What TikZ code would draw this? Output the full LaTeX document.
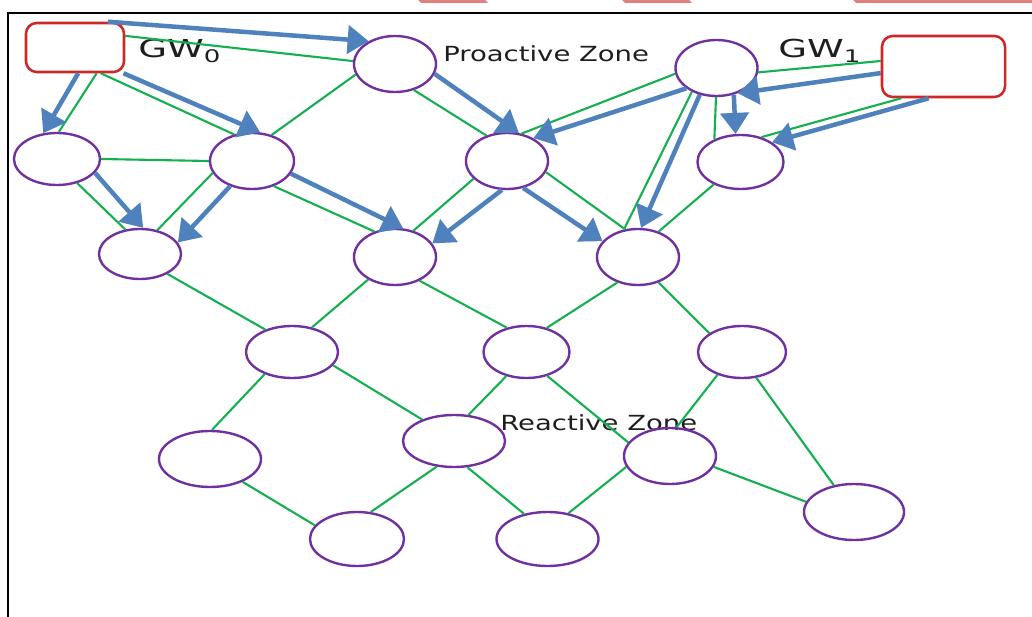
\documentclass[tikz,border=0pt]{standalone}
\usepackage{fontspec}
\usepackage{tikz}
\usetikzlibrary{shapes.geometric,arrows.meta}

\newfontfamily\zonefont[FakeStretch=1.32]{DejaVu Sans}
\newfontfamily\gwfont[FakeStretch=1.5]{DejaVu Sans}

\definecolor{linkgreen}{RGB}{20,176,80}
\definecolor{routeblue}{RGB}{79,129,189}
\definecolor{peerpurple}{RGB}{112,48,160}
\definecolor{gatered}{RGB}{205,40,40}
\definecolor{stripered}{RGB}{224,128,128}
\definecolor{labelgray}{RGB}{30,30,30}

\tikzset{
  peer/.style={ellipse, draw=peerpurple, line width=1.7pt, inner sep=0pt,
    minimum width=2.1cm, minimum height=1.4cm},
  oval/.style 2 args={minimum width=#1cm, minimum height=#2cm},
  gateway/.style={draw=gatered, line width=1.8pt, rounded corners=0.27cm, inner sep=0pt},
  link/.style={draw=linkgreen, line width=1.5pt},
  route/.style={draw=routeblue, line width=3.2pt, -{Triangle[length=15pt,width=20pt]}},
  zonelabel/.style={anchor=base west, inner sep=0pt, text=labelgray,
    font=\zonefont\fontsize{14.8}{17}\selectfont},
  gwlabel/.style={anchor=base west, inner sep=0pt, text=labelgray,
    font=\gwfont\fontsize{17.6}{20}\selectfont}
}

\begin{document}
\begin{tikzpicture}[x=0.025cm, y=-0.025cm]

    \useasboundingbox (0,0) rectangle (1032,617);

    % stripes cut off at the top
    \fill[stripered] (418,0) -- (485,0) -- (488,3) -- (421,3) -- cycle;
    \fill[stripered] (622,0) -- (689,0) -- (692,3) -- (625,3) -- cycle;
    \fill[stripered] (853,0) -- (1032,0) -- (1032,3) -- (856,3) -- cycle;

    % frame
    \draw[line width=1.4pt] (8,617) -- (8,13) -- (1032,13);

    % gateways
    \node[gateway, minimum width=2.45cm, minimum height=1.225cm] (gw0) at (75,47.5) {};
    \node[gateway, minimum width=3.075cm, minimum height=1.525cm] (gw1) at (943.5,66.5) {};

    \node[gwlabel] (gw0text) at (138,58) {GW\textsubscript{0}};
    \node[gwlabel] (gw1text) at (778,58) {GW\textsubscript{1}};
    \node[zonelabel] (proactive) at (443,62) {Proactive Zone};
    \node[zonelabel] (reactive) at (500,430) {Reactive Zone};

    % peers
    \node[peer, oval={2.05}{1.4}] (p1) at (395,64) {};
    \node[peer, oval={2.05}{1.4}] (p2) at (716.5,68) {};

    \node[peer, oval={2.15}{1.3}] (a) at (57,159) {};
    \node[peer] (b) at (252,161) {};
    \node[peer, oval={2.05}{1.4}] (c) at (507,161) {};
    \node[peer, oval={2.15}{1.35}] (d) at (740.5,162) {};

    \node[peer, oval={2.05}{1.25}] (e) at (140,254) {};
    \node[peer, oval={2.05}{1.4}] (f) at (395,257) {};
    \node[peer, oval={2.05}{1.4}] (g) at (638,257) {};

    \node[peer, oval={2.3}{1.3}] (h) at (292,352) {};
    \node[peer, oval={2.15}{1.3}] (i) at (526.5,352) {};
    \node[peer, oval={2.2}{1.3}] (j) at (742,352) {};

    \node[peer, oval={2.55}{1.4}] (k) at (210,459) {};
    \node[peer, oval={2.55}{1.3}] (l) at (454,441) {};
    \node[peer, oval={2.3}{1.4}] (m) at (670,456) {};
    \node[peer, oval={2.5}{1.4}] (n) at (854,512) {};

    \node[peer, oval={2.35}{1.35}] (o) at (357,539) {};
    \node[peer, oval={2.55}{1.35}] (q) at (547.5,539) {};

    % green links
    \draw[link] (gw0.13) -- (p1.176);
    \draw[link] (gw0.-50) -- (a.86);
    \draw[link] (gw0.-45) -- (b.124);
    \draw[link] (p1.195) -- (b.53);
    \draw[link] (p1.-54) -- (c.129);
    \draw[link] (a.0) -- (b.180);
    \draw[link] (a.-50) -- (e.121);
    \draw[link] (b.197) -- (e.54);
    \draw[link] (b.-49) -- (f.129);
    \draw[link] (c.208) -- (f.55);
    \draw[link] (p2.-6) -- (gw1.175);
    \draw[link] (gw1.217) -- (d.50);
    \draw[link] (p2.-91) -- (d.139);
    \draw[link] (p2.188) -- (c.62);
    \draw[link] (p2.224) -- (g.117);
    \draw[link] (c.-16) -- (g.115);
    \draw[link] (d.220) -- (g.51);
    \draw[link] (e.-36) -- (h.140);
    \draw[link] (f.220) -- (h.51);
    \draw[link] (f.-44) -- (i.129);
    \draw[link] (g.231) -- (i.50);
    \draw[link] (g.-51) -- (j.150);
    \draw[link] (h.219) -- (k.86);
    \draw[link] (h.-18) -- (l.146);
    \draw[link] (i.230) -- (l.61);
    \draw[link] (i.-49) -- (m.162);
    \draw[link] (j.223) -- (m.77);
    \draw[link] (j.-61) -- (n.127);
    \draw[link] (k.-35) -- (o.162);
    \draw[link] (l.236) -- (o.63);
    \draw[link] (l.-63) -- (q.133);
    \draw[link] (m.-14) -- (n.168);
    \draw[link] (m.194) -- (q.51);

    % blue routes
    \draw[route] (gw0.38) -- (p1.139);
    \draw[route] (gw0.-83) -- (a.118);
    \draw[route] (gw0.-28) -- (b.74);
    \draw[route] (p1.-14) -- (c.67);
    \draw[route] (a.-20) -- (e.83);
    \draw[route] (b.229) -- (e.17);
    \draw[route] (b.-18) -- (f.74);
    \draw[route] (c.260) -- (f.20);
    \draw[route] (gw1.186) -- (p2.-50);
    \draw[route] (gw1.245) -- (d.32);
    \draw[route] (p2.-57) -- (d.100);
    \draw[route] (p2.214) -- (c.41);
    \draw[route] (p2.238) -- (g.84);
    \draw[route] (c.-59) -- (g.156);

\end{tikzpicture}
\end{document}
